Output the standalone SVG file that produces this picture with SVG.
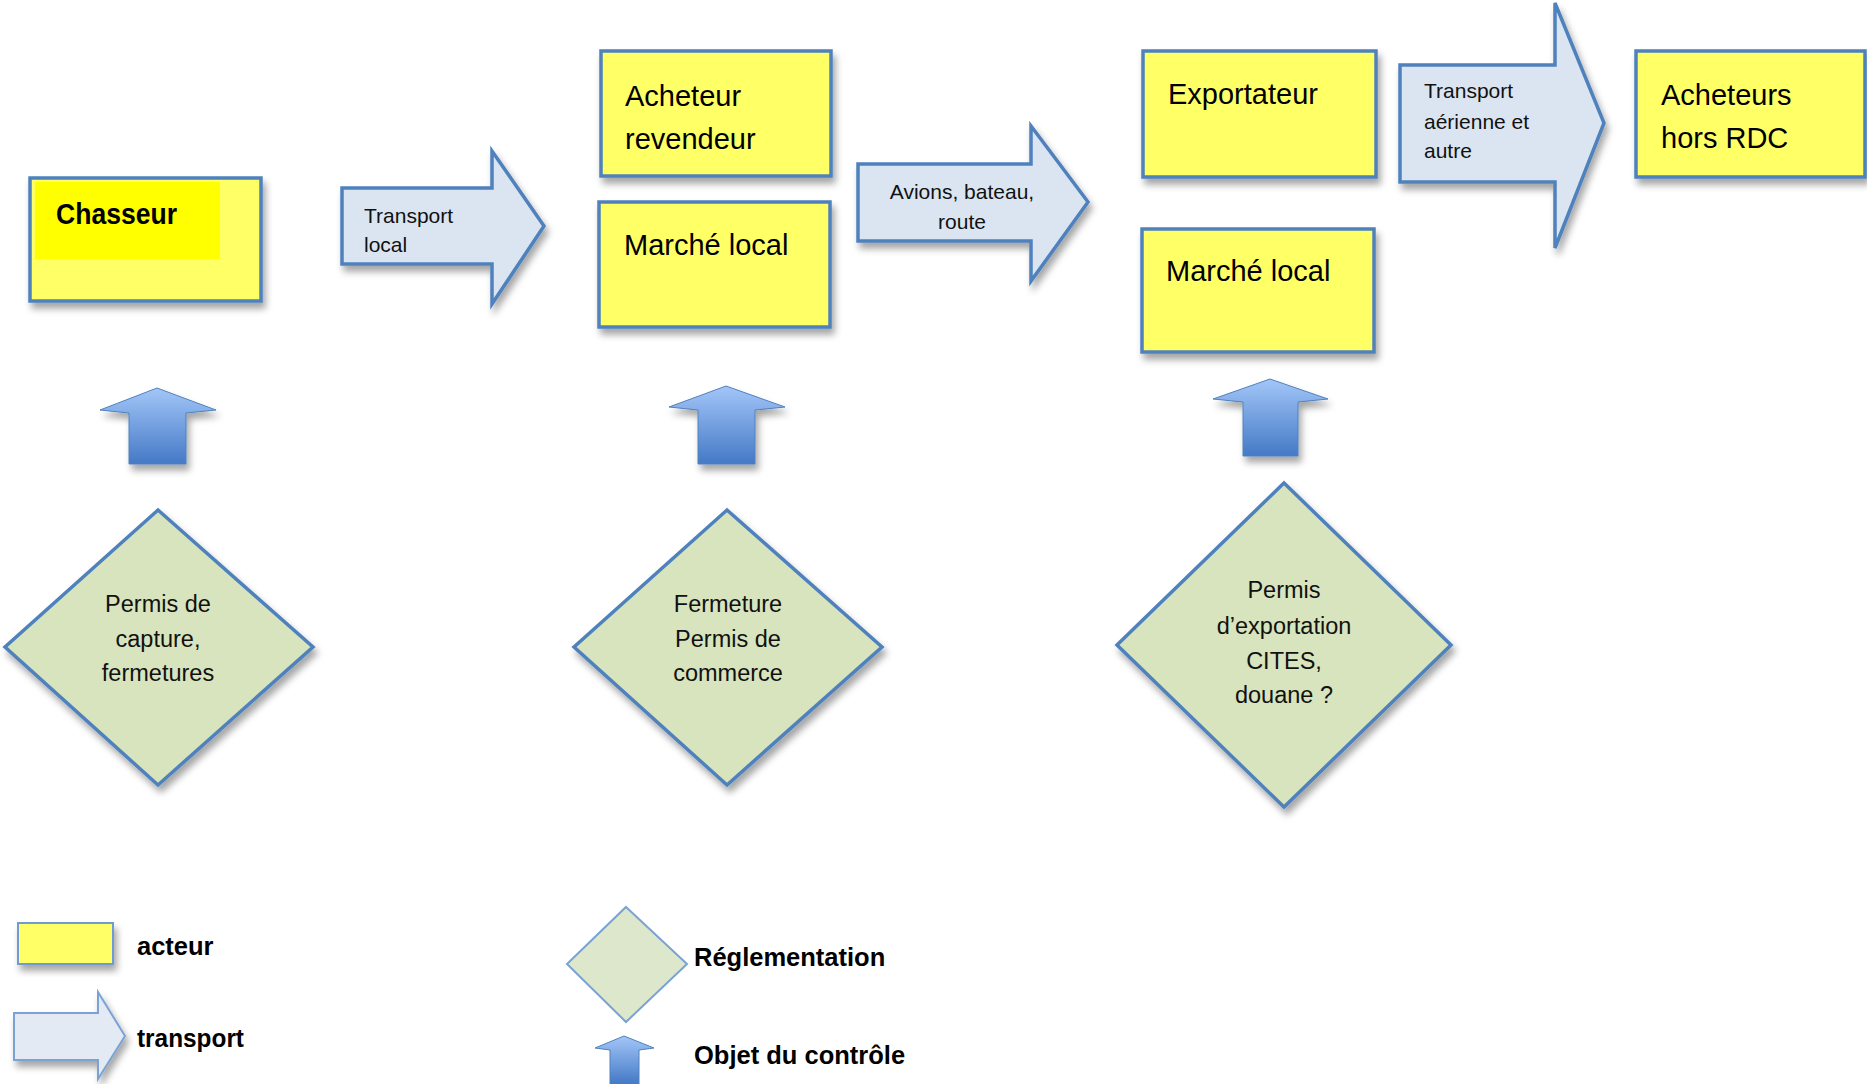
<svg xmlns="http://www.w3.org/2000/svg" width="1867" height="1084" viewBox="0 0 1867 1084">
<defs>
<filter id="sh" x="-20%" y="-20%" width="140%" height="150%">
<feDropShadow dx="3" dy="6" stdDeviation="3.5" flood-color="#000" flood-opacity="0.35"/>
</filter>
<linearGradient id="blueUp" x1="0" y1="0" x2="0" y2="1">
<stop offset="0" stop-color="#a3c6f8"/>
<stop offset="1" stop-color="#4479c6"/>
</linearGradient>
<style>
.actor{fill:#ffff66;stroke:#4f81bd;stroke-width:3.5}
.trans{fill:#dbe5f1;stroke:#4f81bd;stroke-width:3.5;stroke-linejoin:miter}
.reg{fill:#d7e4bd;stroke:#4f81bd;stroke-width:3.5}
.up{fill:url(#blueUp);stroke:#4f81bd;stroke-width:1}
.big{font-family:"Liberation Sans",Arial,sans-serif;font-size:29px;fill:#000}
.sm{font-family:"Liberation Sans",Arial,sans-serif;font-size:21px;fill:#111}
.dt{font-family:"Liberation Sans",Arial,sans-serif;font-size:23.5px;fill:#111;text-anchor:middle}
.leg{font-family:"Liberation Sans",Arial,sans-serif;font-size:25.5px;font-weight:bold;fill:#000}
</style>
</defs>
<rect width="1867" height="1084" fill="#fff"/>

<g id="chasseur">
<rect class="actor" x="30" y="178" width="231" height="123" filter="url(#sh)"/>
<rect x="35" y="182" width="185" height="77" fill="#ffff00"/>
<text class="big" x="56" y="224" font-weight="bold" font-size="26.5" textLength="121" lengthAdjust="spacingAndGlyphs">Chasseur</text>
</g>

<g id="acheteur-revendeur">
<rect class="actor" x="601" y="51" width="230" height="125" filter="url(#sh)"/>
<text class="big" x="625" y="106">Acheteur</text>
<text class="big" x="625" y="149">revendeur</text>
</g>

<g id="marche-local-1">
<rect class="actor" x="599" y="202" width="231" height="125" filter="url(#sh)"/>
<text class="big" x="624" y="255">Marché local</text>
</g>

<g id="exportateur">
<rect class="actor" x="1143" y="51" width="233" height="126" filter="url(#sh)"/>
<text class="big" x="1168" y="104">Exportateur</text>
</g>

<g id="marche-local-2">
<rect class="actor" x="1142" y="229" width="232" height="123" filter="url(#sh)"/>
<text class="big" x="1166" y="281">Marché local</text>
</g>

<g id="acheteurs-hors-rdc">
<rect class="actor" x="1636" y="51" width="229" height="126" filter="url(#sh)"/>
<text class="big" x="1661" y="105">Acheteurs</text>
<text class="big" x="1661" y="148">hors RDC</text>
</g>

<g id="connectors">
<g id="transport-local">
<polygon class="trans" points="342,188 492,188 492,151 544,226 492,304 492,264 342,264" filter="url(#sh)"/>
<text class="sm" x="364" y="223">Transport</text>
<text class="sm" x="364" y="252">local</text>
</g>
<g id="avions-bateau-route">
<polygon class="trans" points="858,164 1031,164 1031,126 1088,202 1031,281 1031,241 858,241" filter="url(#sh)"/>
<text class="sm" x="962" y="199" text-anchor="middle">Avions, bateau,</text>
<text class="sm" x="962" y="229" text-anchor="middle">route</text>
</g>
<g id="transport-aerienne">
<polygon class="trans" points="1400,65 1555,65 1555,3 1604,123 1555,248 1555,182 1400,182" filter="url(#sh)"/>
<text class="sm" x="1424" y="98">Transport</text>
<text class="sm" x="1424" y="129">aérienne et</text>
<text class="sm" x="1424" y="158">autre</text>
</g>
<g id="controle-1">
<polygon class="up" points="157,388 216,410 186,413 186,464 129,464 129,413 100,410" filter="url(#sh)"/>
</g>
<g id="controle-2">
<polygon class="up" points="726,386 785,407 755,410 755,464 698,464 698,410 669,407" filter="url(#sh)"/>
</g>
<g id="controle-3">
<polygon class="up" points="1270,379 1328,399 1298,402 1298,456 1243,456 1243,402 1213,399" filter="url(#sh)"/>
</g>
</g>

<g id="reglementation-1">
<polygon class="reg" points="158,510 313,647 158,785 5,647" filter="url(#sh)"/>
<text class="dt" x="158" y="612">Permis de</text>
<text class="dt" x="158" y="647">capture,</text>
<text class="dt" x="158" y="681">fermetures</text>
</g>

<g id="reglementation-2">
<polygon class="reg" points="727,510 882,647 727,785 574,647" filter="url(#sh)"/>
<text class="dt" x="728" y="612">Fermeture</text>
<text class="dt" x="728" y="647">Permis de</text>
<text class="dt" x="728" y="681">commerce</text>
</g>

<g id="reglementation-3">
<polygon class="reg" points="1284,483 1451,645 1284,807 1117,645" filter="url(#sh)"/>
<text class="dt" x="1284" y="598">Permis</text>
<text class="dt" x="1284" y="634">d’exportation</text>
<text class="dt" x="1284" y="669">CITES,</text>
<text class="dt" x="1284" y="703">douane ?</text>
</g>

<g id="legende">
<rect x="18" y="923" width="95" height="41" fill="#ffff66" stroke="#6f9bd0" stroke-width="2" filter="url(#sh)"/>
<text class="leg" x="137" y="955">acteur</text>
<polygon points="14,1013 98,1013 98,992 125,1036 98,1079 98,1060 14,1060" fill="#e3eaf4" stroke="#7aa2d4" stroke-width="2" filter="url(#sh)"/>
<text class="leg" x="137" y="1047" textLength="107" lengthAdjust="spacingAndGlyphs">transport</text>
<polygon points="626,907 687,964 626,1022 567,964" fill="#dde7cb" stroke="#7aa2d4" stroke-width="2"/>
<text class="leg" x="694" y="966">Réglementation</text>
<polygon class="up" points="624,1036 654,1048 639,1050 639,1084 610,1084 610,1050 595,1048"/>
<text class="leg" x="694" y="1064">Objet du contrôle</text>
</g>
</svg>
